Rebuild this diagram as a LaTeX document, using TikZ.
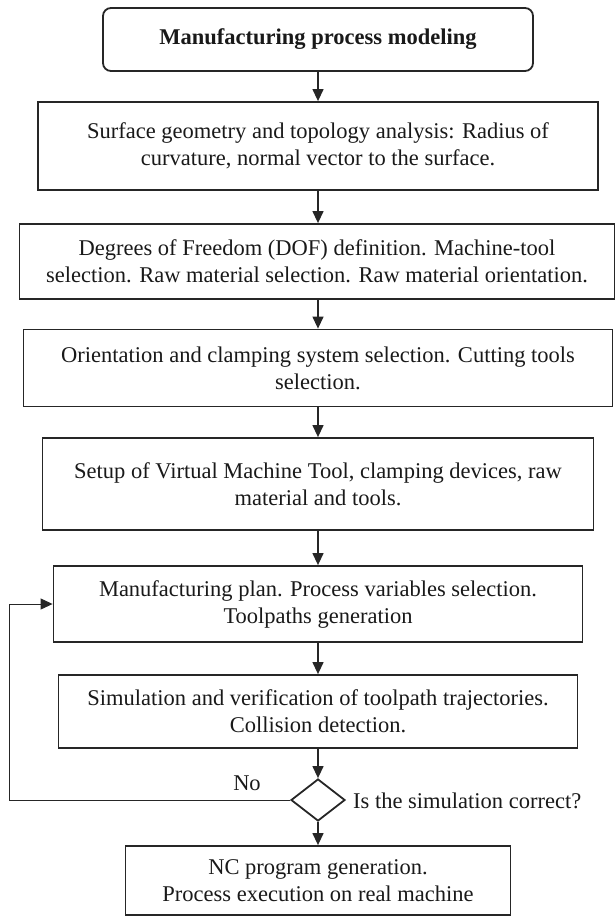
\documentclass[tikz,border=0pt]{standalone}
\usepackage{fontspec}
\setmainfont{Liberation Serif}
\usetikzlibrary{arrows.meta,shapes.geometric}
\begin{document}
\begin{tikzpicture}[x=1pt,y=-1pt,
  every node/.style={font=\fontsize{22.5}{27}\selectfont, text=black!90},
  box/.style={draw=black!85, line width=1.8pt, align=center, inner sep=0pt},
  arr/.style={draw=black!85, line width=1.3pt, -{Triangle[length=12pt,width=11pt]}},
  loopline/.style={draw=black!85, line width=1pt, -{Triangle[length=12pt,width=11pt]}}]
\useasboundingbox (0,0) rectangle (616,916);
\node[box, rounded corners=8pt, minimum width=430pt, minimum height=63pt] (b1) at (318,39.5) {\bfseries Manufacturing process modeling};
\node[box, minimum width=560pt, minimum height=88pt] (b2) at (318,146) {Surface geometry and topology analysis: Radius of\\curvature, normal vector to the surface.};
\node[box, minimum width=595pt, minimum height=75pt] (b3) at (317,261.5) {Degrees of Freedom (DOF) definition. Machine-tool\\selection. Raw material selection. Raw material orientation.};
\node[box, minimum width=589pt, minimum height=77pt] (b4) at (318,368) {Orientation and clamping system selection. Cutting tools\\selection.};
\node[box, minimum width=551pt, minimum height=92pt] (b5) at (318,484) {Setup of Virtual Machine Tool, clamping devices, raw\\material and tools.};
\node[box, minimum width=529pt, minimum height=76pt] (b6) at (318,604) {Manufacturing plan. Process variables selection.\\Toolpaths generation};
\node[box, minimum width=519pt, minimum height=73pt] (b7) at (318,711.5) {Simulation and verification of toolpath trajectories.\\Collision detection.};
\node[draw=black!85, line width=1.8pt, diamond, minimum width=54pt, minimum height=42pt, aspect=1.29, inner sep=0pt] (d) at (318,800) {};
\node[box, minimum width=385pt, minimum height=69pt] (b8) at (318,880.5) {NC program generation.\\Process execution on real machine};
\coordinate (lc) at (9,800);
\draw[arr] (b1.south) -- (b2.north);
\draw[arr] (b2.south) -- (b2.south |- b3.north);
\draw[arr] (b3.south -| b2.south) -- (b4.north);
\draw[arr] (b4.south) -- (b5.north);
\draw[arr] (b5.south) -- (b6.north);
\draw[arr] (b6.south) -- (b7.north);
\draw[arr] (b7.south) -- (d.north);
\draw[arr] (d.south) -- (b8.north);
\draw[loopline] (d.west) -- (lc) |- (b6.west);
\node[inner sep=0pt] (no) at (247,783) {No};
\node[anchor=west, inner sep=0pt] (q) at (353,801) {Is the simulation correct?};
\end{tikzpicture}
\end{document}
